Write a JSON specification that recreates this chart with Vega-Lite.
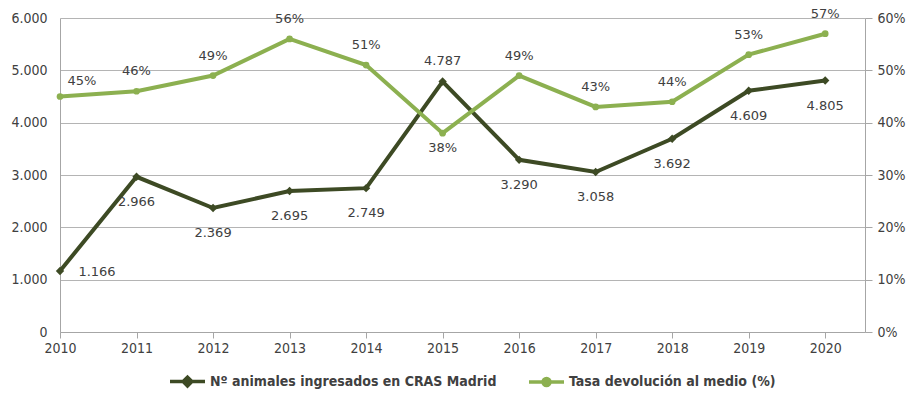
{
  "$schema": "https://vega.github.io/schema/vega-lite/v6.json",
  "width": 805,
  "height": 314,
  "autosize": {"type": "none"},
  "padding": {"left": 60, "top": 18, "right": 47, "bottom": 66},
  "background": "white",
  "config": {
    "locale": {"number": {"decimal": ",", "thousands": ".", "grouping": [3], "currency": ["", " €"]}},
    "view": {"stroke": null},
    "axis": {"labelFont": "Liberation Sans Narrow, DejaVu Sans Condensed, sans-serif", "labelFontSize": 14, "labelColor": "#404040", "domainColor": "#a6a6a6", "tickColor": "#a6a6a6", "gridColor": "#b4b4b4", "title": null}
  },
  "data": {"values": [
    {"year": 2010, "series": "Nº animales ingresados en CRAS Madrid", "value": 1166},
    {"year": 2011, "series": "Nº animales ingresados en CRAS Madrid", "value": 2966},
    {"year": 2012, "series": "Nº animales ingresados en CRAS Madrid", "value": 2369},
    {"year": 2013, "series": "Nº animales ingresados en CRAS Madrid", "value": 2695},
    {"year": 2014, "series": "Nº animales ingresados en CRAS Madrid", "value": 2749},
    {"year": 2015, "series": "Nº animales ingresados en CRAS Madrid", "value": 4787},
    {"year": 2016, "series": "Nº animales ingresados en CRAS Madrid", "value": 3290},
    {"year": 2017, "series": "Nº animales ingresados en CRAS Madrid", "value": 3058},
    {"year": 2018, "series": "Nº animales ingresados en CRAS Madrid", "value": 3692},
    {"year": 2019, "series": "Nº animales ingresados en CRAS Madrid", "value": 4609},
    {"year": 2020, "series": "Nº animales ingresados en CRAS Madrid", "value": 4805},
    {"year": 2010, "series": "Tasa devolución al medio (%)", "value": 0.45},
    {"year": 2011, "series": "Tasa devolución al medio (%)", "value": 0.46},
    {"year": 2012, "series": "Tasa devolución al medio (%)", "value": 0.49},
    {"year": 2013, "series": "Tasa devolución al medio (%)", "value": 0.56},
    {"year": 2014, "series": "Tasa devolución al medio (%)", "value": 0.51},
    {"year": 2015, "series": "Tasa devolución al medio (%)", "value": 0.38},
    {"year": 2016, "series": "Tasa devolución al medio (%)", "value": 0.49},
    {"year": 2017, "series": "Tasa devolución al medio (%)", "value": 0.43},
    {"year": 2018, "series": "Tasa devolución al medio (%)", "value": 0.44},
    {"year": 2019, "series": "Tasa devolución al medio (%)", "value": 0.53},
    {"year": 2020, "series": "Tasa devolución al medio (%)", "value": 0.57}
  ]},
  "encoding": {
    "x": {"field": "year", "type": "quantitative",
      "scale": {"domain": [2010, 2020.52], "nice": false, "zero": false},
      "axis": {"values": [2010,2011,2012,2013,2014,2015,2016,2017,2018,2019,2020], "format": "d", "grid": false, "ticks": true, "tickSize": 6, "labelPadding": 3, "labelFlush": false}}
  },
  "layer": [
    {
      "transform": [{"filter": "datum.series == 'Nº animales ingresados en CRAS Madrid'"}],
      "encoding": {
        "y": {"field": "value", "type": "quantitative",
          "scale": {"domain": [0, 6000], "nice": false},
          "axis": {"orient": "left", "values": [0,1000,2000,3000,4000,5000,6000], "format": ",d", "ticks": false, "labelPadding": 13, "grid": true}}
      },
      "layer": [
        {"mark": {"type": "line", "strokeWidth": 4},
         "encoding": {"color": {"field": "series", "type": "nominal",
           "scale": {"domain": ["Nº animales ingresados en CRAS Madrid", "Tasa devolución al medio (%)"], "range": ["#3d4a24", "#8cb050"]},
           "legend": {"orient": "none", "legendX": 108, "legendY": 344, "direction": "horizontal", "columns": 2, "title": null,
             "labelFont": "Liberation Sans Narrow, DejaVu Sans Condensed, sans-serif", "labelFontSize": 14, "labelFontWeight": "bold", "labelColor": "#404040", "labelLimit": 0,
             "symbolSize": 1225, "symbolStrokeWidth": 3.5, "labelOffset": 3, "columnPadding": 25,
             "encode": {"symbols": {"update": {
               "shape": {"signal": "datum.value == 'Tasa devolución al medio (%)' ? 'M-1,0H1M-0.2,0A0.2,0.2 0 1,0 0.2,0A0.2,0.2 0 1,0 -0.2,0Z' : 'M-1,0H1M0,-0.25L0.25,0L0,0.25L-0.25,0Z'"},
               "fill": {"signal": "scale('color', datum.value)"},
               "stroke": {"signal": "scale('color', datum.value)"}
             }}}}}}},
        {"mark": {"type": "point", "shape": "diamond", "filled": true, "size": 70, "opacity": 1, "color": "#3d4a24"}},
        {"transform": [{"filter": "datum.year != 2010 && datum.year != 2015"}],
         "mark": {"type": "text", "dy": 25, "font": "DejaVu Sans", "fontSize": 13, "color": "#404040"},
         "encoding": {"text": {"field": "value", "type": "quantitative", "format": ",d"}}},
        {"transform": [{"filter": "datum.year == 2010"}],
         "mark": {"type": "text", "dx": 37, "dy": 1, "font": "DejaVu Sans", "fontSize": 13, "color": "#404040"},
         "encoding": {"text": {"field": "value", "type": "quantitative", "format": ",d"}}},
        {"transform": [{"filter": "datum.year == 2015"}],
         "mark": {"type": "text", "dy": -20, "font": "DejaVu Sans", "fontSize": 13, "color": "#404040"},
         "encoding": {"text": {"field": "value", "type": "quantitative", "format": ",d"}}}
      ]
    },
    {
      "transform": [{"filter": "datum.series == 'Tasa devolución al medio (%)'"}],
      "encoding": {
        "y": {"field": "value", "type": "quantitative",
          "scale": {"domain": [0, 0.6], "nice": false},
          "axis": {"orient": "right", "values": [0,0.1,0.2,0.3,0.4,0.5,0.6], "format": ".0%", "ticks": true, "tickSize": 7, "labelPadding": 5, "grid": false}}
      },
      "layer": [
        {"mark": {"type": "line", "strokeWidth": 4},
         "encoding": {"color": {"field": "series", "type": "nominal"}}},
        {"mark": {"type": "point", "shape": "circle", "filled": true, "size": 45, "opacity": 1, "color": "#8cb050"}},
        {"transform": [{"filter": "datum.year != 2010 && datum.year != 2015"}],
         "mark": {"type": "text", "dy": -20, "font": "DejaVu Sans", "fontSize": 13, "color": "#404040"},
         "encoding": {"text": {"field": "value", "type": "quantitative", "format": ".0%"}}},
        {"transform": [{"filter": "datum.year == 2010"}],
         "mark": {"type": "text", "dx": 22, "dy": -16, "font": "DejaVu Sans", "fontSize": 13, "color": "#404040"},
         "encoding": {"text": {"field": "value", "type": "quantitative", "format": ".0%"}}},
        {"transform": [{"filter": "datum.year == 2015"}],
         "mark": {"type": "text", "dy": 15, "font": "DejaVu Sans", "fontSize": 13, "color": "#404040"},
         "encoding": {"text": {"field": "value", "type": "quantitative", "format": ".0%"}}}
      ]
    }
  ],
  "resolve": {"scale": {"y": "independent"}}
}
